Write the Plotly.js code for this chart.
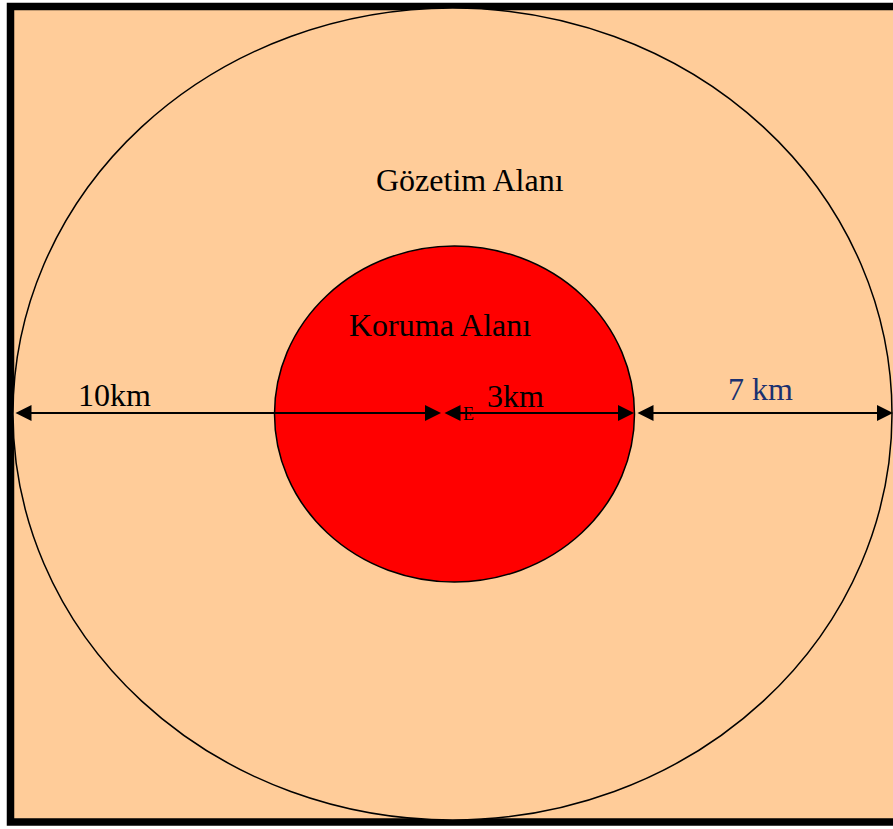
<!DOCTYPE html>
<html>
<head>
<meta charset="utf-8">
<script src="https://cdn.plot.ly/plotly-3.0.1.min.js"></script>
<style>html,body{margin:0;padding:0;background:#fff;}#chart{width:893px;height:829px;}</style>
</head>
<body>
<div id="chart"></div>
<script>
// Diagram geometry (diagram units = px of the drawing)
var zoneNames = ["Gözetim Alanı", "Koruma Alanı"];
var zoneCenterX = [452.5, 454.5];
var zoneCenterY = [414, 414];
var zoneRadiusX = [439.5, 180];
var zoneRadiusY = [406, 168];
var zoneColors = ["#FFCC99", "#FF0000"];
var zoneLabelX = [470, 440];
var zoneLabelY = [180, 325];

// Dimension arrows along the axis
var arrowFrom = [14, 443, 636];
var arrowTo = [441, 634, 893];
var arrowY = 413;
var distLabels = ["10km", "3km", "7 km"];
var distLabelX = [114, 515, 760];
var distLabelY = [395, 396, 389];
var distLabelColors = ["#000000", "#000000", "#1B3170"];

var centerLabel = "E";
var frameBox = [10.5, 6.5, 905, 822];

var serif = "Liberation Serif, Times New Roman, serif";
var shapes = [{
  type: "rect", xref: "x", yref: "y",
  x0: frameBox[0], y0: frameBox[1], x1: frameBox[2], y1: frameBox[3],
  fillcolor: zoneColors[0], line: {color: "#000", width: 7.5}
}];
for (var i = 0; i < zoneNames.length; i++) {
  shapes.push({
    type: "circle", xref: "x", yref: "y",
    x0: zoneCenterX[i] - zoneRadiusX[i], x1: zoneCenterX[i] + zoneRadiusX[i],
    y0: zoneCenterY[i] - zoneRadiusY[i], y1: zoneCenterY[i] + zoneRadiusY[i],
    fillcolor: zoneColors[i], line: {color: "#000", width: 1.5}
  });
}
var annotations = [];
for (var i = 0; i < zoneNames.length; i++) {
  annotations.push({x: zoneLabelX[i], y: zoneLabelY[i], xref: "x", yref: "y",
    text: zoneNames[i], showarrow: false, font: {family: serif, size: 32, color: "#000"}});
}
for (var j = 0; j < arrowFrom.length; j++) {
  annotations.push({
    x: arrowTo[j], y: arrowY, ax: arrowFrom[j], ay: arrowY,
    xref: "x", yref: "y", axref: "x", ayref: "y",
    text: "", showarrow: true, arrowside: "end+start",
    arrowhead: 2, startarrowhead: 2, arrowsize: 1.6, startarrowsize: 1.6,
    arrowwidth: 2, arrowcolor: "#000", standoff: 0, startstandoff: 0
  });
  annotations.push({x: distLabelX[j], y: distLabelY[j], xref: "x", yref: "y",
    text: distLabels[j], showarrow: false,
    font: {family: serif, size: 32, color: distLabelColors[j]}});
}
annotations.push({x: 468, y: 414, xref: "x", yref: "y", text: centerLabel,
  showarrow: false, font: {family: serif, size: 18, color: "#000"}});

var layout = {
  width: 893, height: 829,
  margin: {l: 0, r: 0, t: 0, b: 0},
  paper_bgcolor: "#fff", plot_bgcolor: "#fff",
  xaxis: {range: [0, 893], visible: false, fixedrange: true},
  yaxis: {range: [829, 0], visible: false, fixedrange: true},
  shapes: shapes, annotations: annotations, showlegend: false
};
Plotly.newPlot("chart", [{x: [], y: [], type: "scatter"}], layout, {staticPlot: true, displayModeBar: false});
</script>
</body>
</html>
